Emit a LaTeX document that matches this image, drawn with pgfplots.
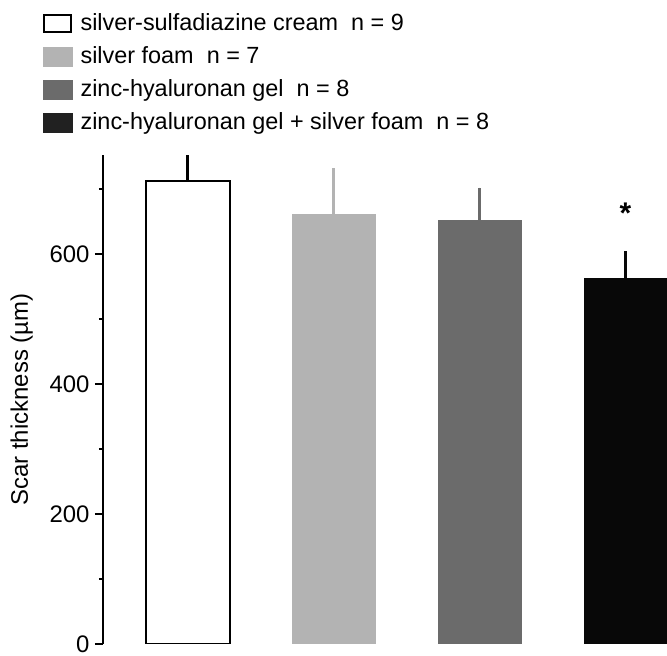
\documentclass[border=0pt]{standalone}
\usepackage{pgfplots}
\pgfplotsset{compat=1.18}
\usepackage{fontspec}
\setmainfont{Liberation Sans}

\definecolor{barlight}{RGB}{179,179,179}
\definecolor{bardark}{RGB}{107,107,107}
\definecolor{barblack}{RGB}{8,8,8}

\pgfplotsset{
  groupbar/.style={ybar, bar width=84bp, bar shift=0pt, forget plot,
    error bars/y dir=plus, error bars/y explicit, error bars/error mark=none},
  swatch/.style={legend image code/.code={\fill[#1] (0bp,-9bp) rectangle (29bp,10bp);}},
}

\begin{document}
\begin{tikzpicture}
\begin{axis}[
  x=146bp, y=0.65bp,
  xmin=-0.579, xmax=3.284,
  ymin=0, ymax=752,
  axis x line=none,
  axis y line*=left,
  axis line style={line width=2bp},
  ytick={0,200,400,600},
  minor ytick={100,300,500,700},
  tick align=outside,
  major tick length=8bp,
  minor tick length=4bp,
  every tick/.style={black, line width=2bp},
  yticklabel style={font=\fontsize{24}{28}\selectfont, xshift=-2bp, inner ysep=0pt},
  /pgf/number format/assume math mode=true,
  ylabel={Scar thickness (µm)},
  ylabel style={font=\fontsize{24}{28}\selectfont, yshift=10bp},
  legend style={
    draw=none, fill=none, inner sep=0pt,
    at={(-0.1064,1.291)}, anchor=north west,
    font=\fontsize{23.5}{27}\selectfont,
    nodes={inner sep=0pt, text height=17bp, text depth=5bp},
    row sep=11bp,
    /tikz/every odd column/.append style={column sep=8bp},
  },
  legend cell align=left,
]
\coordinate (o) at (rel axis cs:0,0);

% bars with upward standard-error whiskers
\addplot[groupbar, draw=black, fill=white, line width=2bp,
  error bars/error bar style={black, line width=2.5bp}]
  coordinates {(0,712) +- (0,40)};
\addplot[groupbar, draw=none, fill=barlight,
  error bars/error bar style={barlight, line width=2.5bp}]
  coordinates {(1,662) +- (0,70)};
\addplot[groupbar, draw=none, fill=bardark,
  error bars/error bar style={bardark, line width=2.5bp}]
  coordinates {(2,652) +- (0,50)};
\addplot[groupbar, draw=none, fill=barblack,
  error bars/error bar style={barblack, line width=2.5bp}]
  coordinates {(3,563) +- (0,41)};

% legend swatches
\addlegendimage{legend image code/.code={\draw[black, fill=white, line width=2bp] (1bp,-8bp) rectangle (28bp,9bp);}}
\addlegendentry{silver-sulfadiazine cream\ \ n = 9}
\addlegendimage{swatch=barlight}
\addlegendentry{silver foam\ \ n = 7}
\addlegendimage{swatch=bardark}
\addlegendentry{zinc-hyaluronan gel\ \ n = 8}
\addlegendimage{swatch=barblack!90!white}
\addlegendentry{zinc-hyaluronan gel + silver foam\ \ n = 8}

\node[font=\fontsize{30}{30}\selectfont\bfseries] at (axis cs:3,662) {*};
\end{axis}
\pgfresetboundingbox
\useasboundingbox ([shift={(-103bp,-12bp)}]o) rectangle ++(667bp,656bp);
\end{tikzpicture}
\end{document}
